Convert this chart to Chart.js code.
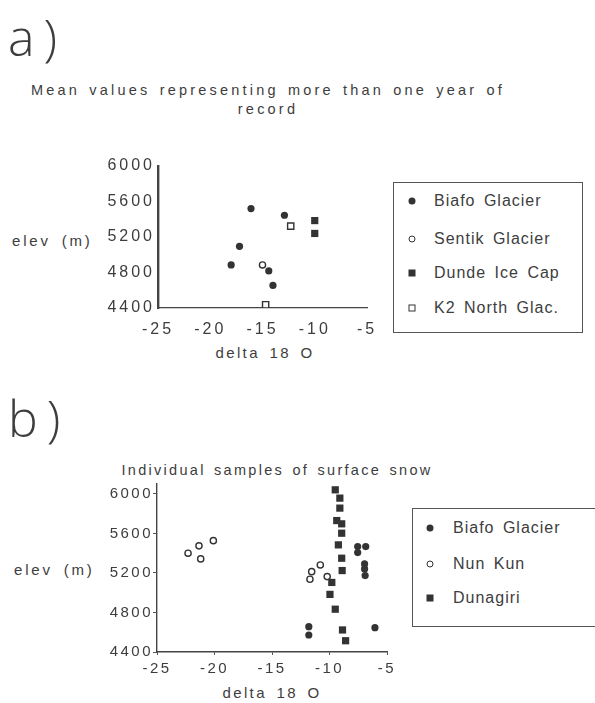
<!DOCTYPE html>
<html>
<head>
<meta charset="utf-8">
<script src="https://cdn.jsdelivr.net/npm/chart.js@4.4.1/dist/chart.umd.min.js"></script>
<style>
  body { margin: 0; width: 595px; height: 703px; position: relative; overflow: hidden; background: #fff;
         font-family: "Liberation Sans", Arial, sans-serif; color: #3d3d3d; }
  .t { position: absolute; white-space: nowrap; }
  .panel { position: absolute; font-family: "Open Sans", "Liberation Sans", sans-serif; font-weight: 300;
           font-size: 50px; letter-spacing: 9px; line-height: 1; }
  .title { font-size: 14.5px; letter-spacing: 3.2px; word-spacing: 2px; text-align: center; transform: translateX(-50%); }
  .title.b { letter-spacing: 2.3px; }
  .axis { font-size: 15px; letter-spacing: 2.8px; word-spacing: 4px; transform: translateY(-50%); }
  .xlab { font-size: 15px; letter-spacing: 2.4px; word-spacing: 3px; transform: translate(-50%, -50%); }
  canvas { position: absolute; }
  .legend { position: absolute; border: 1.5px solid #555; box-sizing: border-box; }
  .row { position: absolute; font-size: 16px; letter-spacing: 1px; word-spacing: 3px; transform: translateY(-50%); white-space: nowrap; }
  .mk { position: absolute; box-sizing: border-box; transform: translate(-50%, -50%); }
  .dot { width: 7px; height: 7px; border-radius: 50%; background: #333; }
  .ring { width: 7px; height: 7px; border-radius: 50%; border: 1.4px solid #333; background: #fff; }
  .box { width: 7px; height: 7px; background: #333; }
  .frame { width: 7px; height: 7px; border: 1.4px solid #333; background: #fff; }
</style>
</head>
<body>

<div class="t panel" style="left:8px; top:12px;">a)</div>
<div class="t title" style="left:268px; top:82px;">Mean values representing more than one year of</div>
<div class="t title" style="left:268px; top:101px;">record</div>
<div class="t axis" style="left:12px; top:240px;">elev (m)</div>
<div class="t xlab" style="left:265px; top:352px;">delta 18 O</div>
<canvas id="chartA" width="390" height="210" style="left:0; top:140px; width:390px; height:210px;"></canvas>
<div class="legend" id="legendA" style="left:393px; top:182px; width:190px; height:151px;"></div>

<div class="t panel" style="left:8px; top:393px;">b)</div>
<div class="t title b" style="left:277px; top:462px;">Individual samples of surface snow</div>
<div class="t axis" style="left:14px; top:569px;">elev (m)</div>
<div class="t xlab" style="left:272px; top:692px;">delta 18 O</div>
<canvas id="chartB" width="400" height="215" style="left:0; top:470px; width:400px; height:215px;"></canvas>
<div class="legend" id="legendB" style="left:412px; top:508px; width:190px; height:119px;"></div>

<script>
// ---- data: a) mean values, [delta 18 O, elevation m]
const biafoMean  = [[-16.1, 5520], [-12.9, 5445], [-17.2, 5095], [-18.0, 4885], [-14.4, 4818], [-14.0, 4654]];
const sentikMean = [[-15.0, 4885]];
const dundeMean  = [[-10.0, 5385], [-10.0, 5240]];
const k2Mean     = [[-12.3, 5322], [-14.7, 4437]];

// ---- data: b) individual surface snow samples
const biafoSnow = [[-7.55, 5467], [-6.85, 5467], [-7.55, 5406], [-6.95, 5291], [-6.95, 5241], [-6.9, 5173],
                   [-11.8, 4656], [-11.8, 4572], [-6.05, 4646]];
const nunKunSnow = [[-22.3, 5400], [-21.35, 5474], [-20.1, 5527], [-21.2, 5342],
                    [-10.8, 5281], [-11.55, 5213], [-11.7, 5136], [-10.2, 5163]];
const dunagiriSnow = [[-9.5, 6041], [-9.1, 5957], [-9.1, 5856], [-9.37, 5730], [-8.94, 5697], [-8.94, 5602],
                      [-9.23, 5484], [-8.94, 5349], [-8.9, 5224], [-9.8, 5104], [-9.96, 4983], [-9.5, 4833],
                      [-8.87, 4623], [-8.6, 4514]];

// ---- tick labels
const xTicks = [-25, -20, -15, -10, -5];
const yTicks = [4400, 4800, 5200, 5600, 6000];

const ink = '#333';
const marks = {
  dot:   { pointStyle: 'circle', pointRadius: 3.6, backgroundColor: ink, borderColor: ink, borderWidth: 0 },
  ring:  { pointStyle: 'circle', pointRadius: 3.1, backgroundColor: '#fff', borderColor: ink, borderWidth: 1.4 },
  box:   { pointStyle: 'rect', pointRadius: 5.1, backgroundColor: ink, borderColor: ink, borderWidth: 0 },
  frame: { pointStyle: 'rect', pointRadius: 4.4, backgroundColor: '#fff', borderColor: ink, borderWidth: 1.4 }
};

const seriesA = [
  { label: 'Biafo Glacier',  data: biafoMean,  mark: 'dot',   order: 1 },
  { label: 'Sentik Glacier', data: sentikMean, mark: 'ring',  order: 2 },
  { label: 'Dunde Ice Cap',  data: dundeMean,  mark: 'box',   order: 0 },
  { label: 'K2 North Glac.', data: k2Mean,     mark: 'frame', order: 0 }
];
const seriesB = [
  { label: 'Biafo  Glacier', data: biafoSnow,    mark: 'dot',  order: 1 },
  { label: 'Nun Kun',        data: nunKunSnow,   mark: 'ring', order: 2 },
  { label: 'Dunagiri',       data: dunagiriSnow, mark: 'box',  order: 0 }
];

// letter spacing for the tick labels, canvas has no css for it
const spacing = {
  id: 'spacing',
  beforeDraw(chart, args, opts) { chart.ctx.letterSpacing = opts.px + 'px'; },
  afterDraw(chart) { chart.ctx.letterSpacing = '0px'; }
};

function makeChart(id, series, o) {
  return new Chart(document.getElementById(id), {
    type: 'scatter',
    data: {
      datasets: series.map(s => Object.assign({
        label: s.label,
        order: s.order,
        data: s.data.map(p => ({ x: p[0], y: p[1] }))
      }, marks[s.mark]))
    },
    options: {
      responsive: false,
      animation: false,
      events: [],
      layout: { padding: { top: o.top, right: o.right, bottom: 0, left: 0 } },
      plugins: { legend: { display: false }, tooltip: { enabled: false }, spacing: { px: o.spacing } },
      scales: {
        x: {
          type: 'linear', min: -25, max: -5,
          afterBuildTicks: sc => { sc.ticks = xTicks.map(v => ({ value: v })); },
          afterFit: sc => { sc.height = o.xHeight; },
          border: { display: true, color: '#444', width: o.xBorder },
          grid: { drawOnChartArea: false, drawTicks: o.xTickLen > 0, tickLength: o.xTickLen, color: '#555' },
          ticks: { color: '#3d3d3d', font: { family: 'Liberation Sans', size: o.font }, padding: o.xPad,
                   maxRotation: 0, callback: v => String(v) }
        },
        y: {
          type: 'linear', min: 4400, max: o.yMax,
          afterBuildTicks: sc => { sc.ticks = yTicks.map(v => ({ value: v })); },
          afterFit: sc => { sc.width = o.yWidth; },
          border: { display: true, color: '#444', width: o.yBorder },
          grid: { drawOnChartArea: false, drawTicks: o.yTickLen > 0, tickLength: o.yTickLen, color: '#555' },
          ticks: { color: '#3d3d3d', font: { family: 'Liberation Sans', size: o.font }, padding: o.yPad,
                   callback: v => String(v) }
        }
      }
    },
    plugins: [spacing]
  });
}

makeChart('chartA', seriesA, {
  top: 26, right: 23, xHeight: 42, yWidth: 158, yMax: 6000,
  font: 16, spacing: 3, xPad: 12, yPad: 3, xTickLen: 0, yTickLen: 0, xBorder: 1.2, yBorder: 2.4
});
makeChart('chartB', seriesB, {
  top: 14, right: 13, xHeight: 33, yWidth: 157, yMax: 6100,
  font: 15, spacing: 2.5, xPad: 5, yPad: 0, xTickLen: 3, yTickLen: 4, xBorder: 1.4, yBorder: 1.4
});

// html legends built from the same series
function makeLegend(id, series, rows, mx, tx) {
  const box = document.getElementById(id);
  series.forEach((s, i) => {
    const m = document.createElement('span');
    m.className = 'mk ' + s.mark;
    m.style.left = mx + 'px';
    m.style.top = rows[i] + 'px';
    box.appendChild(m);
    const r = document.createElement('div');
    r.className = 'row';
    r.textContent = s.label;
    r.style.left = tx + 'px';
    r.style.top = rows[i] + 'px';
    box.appendChild(r);
  });
}
makeLegend('legendA', seriesA, [18, 56, 90, 125], 18, 40);
makeLegend('legendB', seriesB, [19, 55, 89], 17, 40);
</script>
</body>
</html>
